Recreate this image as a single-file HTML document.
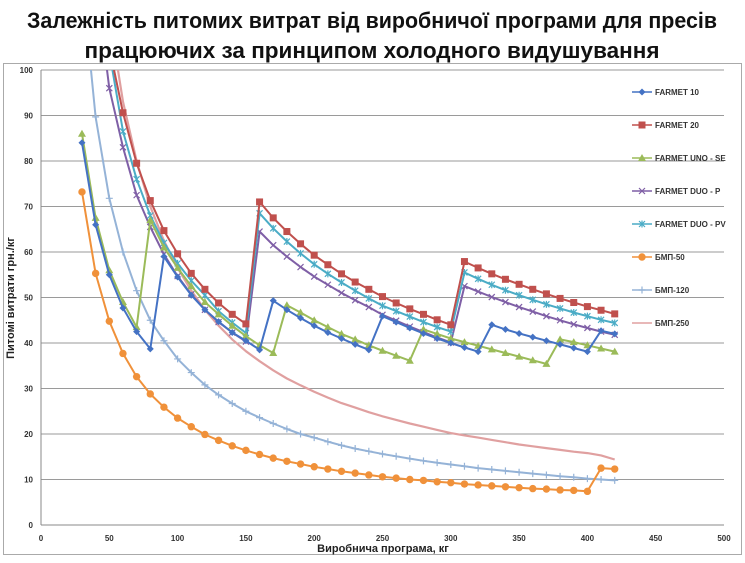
<!DOCTYPE html>
<html><head><meta charset="utf-8"><style>
body{margin:0;background:#fff;width:745px;height:558px;overflow:hidden;font-family:"Liberation Sans",sans-serif}
</style></head><body>
<svg id="chart" width="745" height="558" xmlns="http://www.w3.org/2000/svg">
<text x="372" y="28" text-anchor="middle" font-size="22" font-weight="bold" textLength="690" lengthAdjust="spacingAndGlyphs" fill="#111">Залежність питомих витрат від виробничої програми для пресів</text>
<text x="372" y="58" text-anchor="middle" font-size="22" font-weight="bold" textLength="575" lengthAdjust="spacingAndGlyphs" fill="#111">працюючих за принципом холодного видушування</text>
<rect x="3.5" y="63.5" width="738" height="491" fill="none" stroke="#aaa"/>
<g id="grid"></g><g id="axes"></g><g id="series"></g><g id="legend"></g>
<text x="383" y="552" text-anchor="middle" font-size="11" font-weight="bold" fill="#222">Виробнича програма, кг</text>
<text transform="translate(14,298) rotate(-90)" text-anchor="middle" font-size="11" font-weight="bold" fill="#222">Питомі витрати грн./кг</text>
</svg>
<script>
const xs=[30,40,50,60,70,80,90,100,110,120,130,140,150,160,170,180,190,200,210,220,230,240,250,260,270,280,290,300,310,320,330,340,350,360,370,380,390,400,410,420];
const farmet10=[84,66,55,47.7,42.5,38.7,59,54.5,50.5,47.3,44.7,42.3,40.5,38.5,49.3,47.3,45.5,43.8,42.3,41,39.7,38.5,45.9,44.6,43.3,42.1,41,40,39,38.1,44,43,42.1,41.3,40.5,39.7,38.9,38.1,42.7,42];
const farmet20=[180,135,105,90.6,79.5,71.3,64.7,59.6,55.3,51.8,48.8,46.3,44.2,71,67.5,64.5,61.8,59.3,57.2,55.2,53.4,51.8,50.2,48.8,47.5,46.3,45.1,44,57.9,56.5,55.2,54,52.9,51.8,50.8,49.8,48.9,48,47.2,46.4];
const farmetUno=[86,67.5,56,49,43.5,67,61,56.5,52.5,49,46.3,43.8,41.5,39.5,37.8,48.3,46.7,45,43.5,42,40.8,39.5,38.3,37.2,36.1,43,42,41,40.2,39.4,38.6,37.8,37,36.2,35.4,40.8,40.2,39.5,38.8,38.1];
const farmetDuoP=[160,120,96,83,72.5,65.5,59.5,54.7,50.7,47.3,44.6,42.3,40.3,64.5,61.5,59,56.7,54.6,52.8,51,49.4,47.9,46.2,44.9,43.6,42.4,41.2,40.1,52.5,51.3,50.1,49,47.9,46.9,45.9,45,44.1,43.3,42.5,41.8];
const farmetDuoPV=[170,130,104,86.5,76,68,62,57.5,53.7,50.5,47,44.5,42.2,68.5,65.2,62.3,59.7,57.3,55.2,53.3,51.5,49.8,48.2,47,45.8,44.6,43.5,42.5,55.5,54.1,52.8,51.6,50.5,49.5,48.5,47.6,46.7,45.9,45.1,44.4];
const bmp50=[73.2,55.3,44.8,37.7,32.6,28.8,25.9,23.5,21.6,19.9,18.6,17.4,16.4,15.5,14.7,14,13.4,12.8,12.3,11.8,11.4,11,10.6,10.3,10,9.8,9.5,9.3,9,8.8,8.6,8.4,8.2,8,7.9,7.7,7.6,7.4,12.5,12.3];
const bmp120=[120,89.7,71.8,60,51.5,45,40.5,36.5,33.5,30.8,28.6,26.7,25,23.6,22.3,21.1,20,19.2,18.3,17.5,16.8,16.2,15.6,15.1,14.6,14.1,13.7,13.3,12.9,12.5,12.2,11.9,11.6,11.3,11,10.7,10.5,10.2,10,9.8];
const bmp250=[190,140,112,93,80,70,62.5,56.5,51.5,47.3,43.8,40.8,38.2,36,34,32.2,30.7,29.3,28,26.8,25.8,24.8,23.9,23.1,22.3,21.6,20.9,20.2,19.7,19.2,18.7,18.2,17.7,17.3,16.9,16.5,16.1,15.8,15.3,14.4];
const xTicks=[0,50,100,150,200,250,300,350,400,450,500];
const yTicks=[0,10,20,30,40,50,60,70,80,90,100];
const seriesNames=["FARMET 10","FARMET 20","FARMET UNO - SE","FARMET DUO - P","FARMET DUO - PV","БМП-50","БМП-120","БМП-250"];

const NS="http://www.w3.org/2000/svg";
const X0=41,X1=724,Y0=525,Y1=70;
function sx(v){return X0+(v-0)/500*(X1-X0);}
function sy(v){return Y0-(v-0)/100*(Y0-Y1);}
function mk(tag,attrs,parent){const e=document.createElementNS(NS,tag);for(const k in attrs)e.setAttribute(k,attrs[k]);parent.appendChild(e);return e;}
const svg=document.getElementById('chart');
const defs=mk('defs',{},svg);
const cp=mk('clipPath',{id:'plotclip'},defs);
mk('rect',{x:X0,y:Y1,width:X1-X0+5,height:Y0-Y1},cp);
const grid=document.getElementById('grid'),axes=document.getElementById('axes');
yTicks.forEach(t=>{
  if(t>0){const l=mk('line',{x1:X0,x2:X1,y1:sy(t),y2:sy(t),stroke:'#9a9a9a','stroke-width':1},grid);
  
  }
  const tx=mk('text',{x:X0-8,y:sy(t)+3,'text-anchor':'end','font-size':8,'font-weight':'bold',fill:'#333'},axes);
  tx.textContent=t;
  
  
});
xTicks.forEach(t=>{
  const tx=mk('text',{x:sx(t),y:Y0+16,'text-anchor':'middle','font-size':8,'font-weight':'bold',fill:'#333'},axes);
  tx.textContent=t;
  
  
});
const xa=mk('line',{x1:X0,x2:X1,y1:Y0,y2:Y0,stroke:'#888'},axes);


const ya=mk('line',{x1:X0,x2:X0,y1:Y1,y2:Y0,stroke:'#888'},axes);



const allData=[farmet10,farmet20,farmetUno,farmetDuoP,farmetDuoPV,bmp50,bmp120,bmp250];
const colors=['#4472c4','#c0504d','#9bbb59','#7f5fa6','#4bacc6','#f0913a','#95b3d7','#e0a0a0'];
const markers=['diamond','square','triangle','x','star','circle','plus','none'];
const widths=[2,2,2,2,2,2,2,2.2];
function drawMarker(type,x,y,c,g){
  if(type==='diamond')return mk('path',{d:`M${x} ${y-3.5}L${x+3.5} ${y}L${x} ${y+3.5}L${x-3.5} ${y}Z`,fill:c},g);
  if(type==='square')return mk('rect',{x:x-3.5,y:y-3.5,width:7,height:7,fill:c},g);
  if(type==='triangle')return mk('path',{d:`M${x} ${y-4}L${x+4} ${y+3}L${x-4} ${y+3}Z`,fill:c},g);
  if(type==='circle')return mk('circle',{cx:x,cy:y,r:3.7,fill:c},g);
  if(type==='x')return mk('path',{d:`M${x-3} ${y-3}L${x+3} ${y+3}M${x-3} ${y+3}L${x+3} ${y-3}`,stroke:c,'stroke-width':1.2},g);
  if(type==='star')return mk('path',{d:`M${x-3} ${y-3}L${x+3} ${y+3}M${x-3} ${y+3}L${x+3} ${y-3}M${x} ${y-3.5}L${x} ${y+3.5}`,stroke:c,'stroke-width':1.2},g);
  if(type==='plus')return mk('path',{d:`M${x-3.5} ${y}L${x+3.5} ${y}M${x} ${y-3.5}L${x} ${y+3.5}`,stroke:c,'stroke-width':1.2},g);
  return null;
}
const sg=document.getElementById('series');
const drawOrder=[7,6,5,3,4,2,0,1];
drawOrder.forEach(i=>{
  const data=allData[i];
  const g=mk('g',{'clip-path':'url(#plotclip)'},sg);
  
  
  const d=data.map((v,k)=>(k?'L':'M')+sx(xs[k]).toFixed(1)+' '+sy(v).toFixed(1)).join('');
  const p=mk('path',{d:d,fill:'none',stroke:colors[i],'stroke-width':widths[i],'stroke-linejoin':'round'},g);
  
  
  data.forEach((v,k)=>{const m=drawMarker(markers[i],sx(xs[k]),sy(v),colors[i],g);
    if(m){
    }});
});
const lg=document.getElementById('legend');
seriesNames.forEach((n,i)=>{
  const y=92+i*33;
  const g=mk('g',{},lg);
  
  
  mk('line',{x1:632,x2:652,y1:y,y2:y,stroke:colors[i],'stroke-width':1.6},g);
  drawMarker(markers[i],642,y,colors[i],g);
  const t=mk('text',{x:655,y:y+3,'font-size':8,'font-weight':'bold',fill:'#333'},g);
  t.textContent=n;
});
</script>
</body></html>
